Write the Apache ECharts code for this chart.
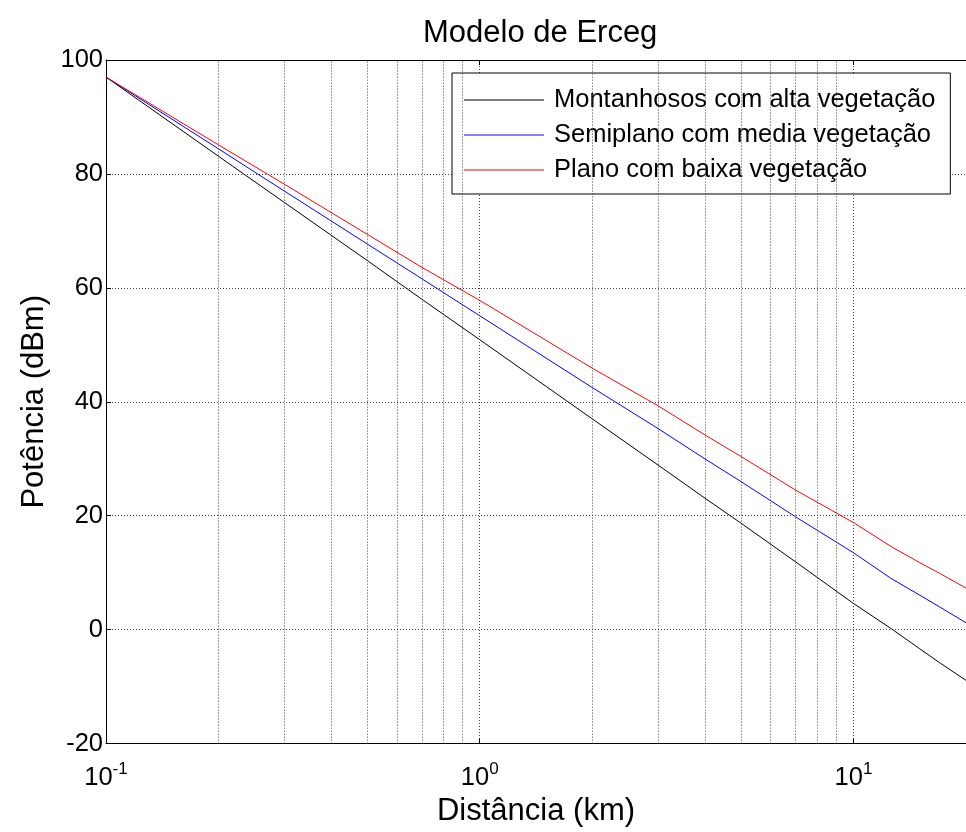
<!DOCTYPE html>
<html>
<head>
<meta charset="utf-8">
<script src="https://cdn.jsdelivr.net/npm/echarts@6/dist/echarts.min.js"></script>
<style>
html, body { margin: 0; padding: 0; background: #fff; }
#erceg { width: 966px; height: 832px; }
</style>
</head>
<body>
<div id="erceg"></div>
<script>
// distâncias (km) e potências
var distancias = [0.1, 0.2, 0.3, 0.5, 0.7, 1, 2, 3, 4, 5, 7, 10, 12.6, 15, 17, 20];
var montanhosos = [97, 83.1, 75.0, 64.8, 58.0, 50.9, 37.0, 28.9, 23.1, 18.7, 11.9, 4.6, 0.2, -3.3, -5.8, -8.9];
var semiplano = [97, 84.4, 77.0, 67.7, 61.6, 55.1, 42.5, 35.3, 30.0, 26.0, 19.8, 13.5, 9.0, 6.1, 4.0, 1.2];
var plano = [97, 85.1, 78.2, 69.4, 63.6, 57.8, 45.9, 39.3, 34.2, 30.4, 24.5, 18.8, 14.6, 11.8, 9.9, 7.3];
var nomes = ['Montanhosos com alta vegetação', 'Semiplano com media vegetação', 'Plano com baixa vegetação'];
var gradeMenorX = [0.2, 0.3, 0.4, 0.5, 0.6, 0.7, 0.8, 0.9, 2, 3, 4, 5, 6, 7, 8, 9];
var ticksY = [-20, 0, 20, 40, 60, 80, 100];

var fonte = 'Liberation Sans, Arial, sans-serif';
var grade = { color: '#444', width: 1, type: [1, 2] };

function pares(ys) {
	return distancias.map(function (d, i) { return [d, ys[i]]; });
}

var myChart = echarts.init(document.getElementById('erceg'));

var option = {
	backgroundColor: '#fff',
	animation: false,
	title: {
		text: 'Modelo de Erceg',
		left: 418,
		top: 13,
		textStyle: { fontFamily: fonte, fontSize: 31, fontWeight: 'normal', color: '#000' }
	},
	legend: {
		orient: 'vertical',
		left: 452,
		top: 73,
		padding: [14, 15, 11, 12],
		itemGap: 9,
		itemWidth: 80,
		itemHeight: 1,
		icon: 'rect',
		borderColor: '#000',
		borderWidth: 1,
		borderRadius: 0,
		backgroundColor: '#fff',
		textStyle: { fontFamily: fonte, fontSize: 25.5, color: '#000', lineHeight: 26, padding: [0, 0, 0, 5] },
		data: nomes
	},
	grid: {
		left: 106,
		right: -10,
		top: 60,
		bottom: 86,
		containLabel: false
	},
	xAxis: [{
		type: 'log',
		logBase: 10,
		min: 0.1,
		max: 20,
		name: 'Distância (km)',
		nameLocation: 'middle',
		nameGap: 46,
		nameTextStyle: { fontFamily: fonte, fontSize: 31, color: '#000' },
		axisLine: { onZero: false, lineStyle: { color: '#000', width: 1 } },
		axisTick: { inside: true, length: 5, lineStyle: { color: '#000' } },
		splitLine: { show: true, lineStyle: grade },
		axisLabel: {
			margin: 17,
			showMaxLabel: false,
			formatter: function (v) {
				var e = Math.round(Math.log(v) / Math.LN10);
				if (Math.abs(Math.pow(10, e) - v) > 1e-6 * v) return '';
				return '{b|10}{s|' + e + '}';
			},
			rich: {
				b: { fontFamily: fonte, fontSize: 25.5, color: '#000' },
				s: { fontFamily: fonte, fontSize: 17, color: '#000', padding: [0, 0, 18, 0] }
			}
		}
	}, {
		type: 'log',
		logBase: 10,
		min: 0.1,
		max: 20,
		position: 'top',
		axisLine: { onZero: false, lineStyle: { color: '#000', width: 1 } },
		axisTick: { inside: true, length: 5, lineStyle: { color: '#000' } },
		axisLabel: { show: false },
		splitLine: { show: false }
	}],
	yAxis: {
		type: 'value',
		min: ticksY[0],
		max: ticksY[ticksY.length - 1],
		interval: 20,
		name: 'Potência (dBm)',
		nameLocation: 'middle',
		nameGap: 54,
		nameTextStyle: { fontFamily: fonte, fontSize: 31, color: '#000' },
		axisLine: { show: true, onZero: false, lineStyle: { color: '#000', width: 1 } },
		axisTick: { show: true, inside: true, length: 5, lineStyle: { color: '#000' } },
		axisLabel: { fontFamily: fonte, fontSize: 25.5, color: '#000', margin: 3 },
		splitLine: { show: true, lineStyle: grade }
	},
	series: [{
		name: nomes[0],
		type: 'line',
		data: pares(montanhosos),
		showSymbol: false,
		symbol: 'none',
		color: '#000000',
		lineStyle: { width: 1, color: '#000000' },
		markLine: {
			silent: true,
			symbol: ['none', 'none'],
			label: { show: false },
			lineStyle: grade,
			data: gradeMenorX.map(function (x) { return { xAxis: x }; })
		}
	}, {
		name: nomes[1],
		type: 'line',
		data: pares(semiplano),
		showSymbol: false,
		symbol: 'none',
		color: '#0000ff',
		lineStyle: { width: 1, color: '#0000ff' }
	}, {
		name: nomes[2],
		type: 'line',
		data: pares(plano),
		showSymbol: false,
		symbol: 'none',
		color: '#ff0000',
		lineStyle: { width: 1, color: '#ff0000' }
	}]
};

myChart.setOption(option);
</script>
</body>
</html>
